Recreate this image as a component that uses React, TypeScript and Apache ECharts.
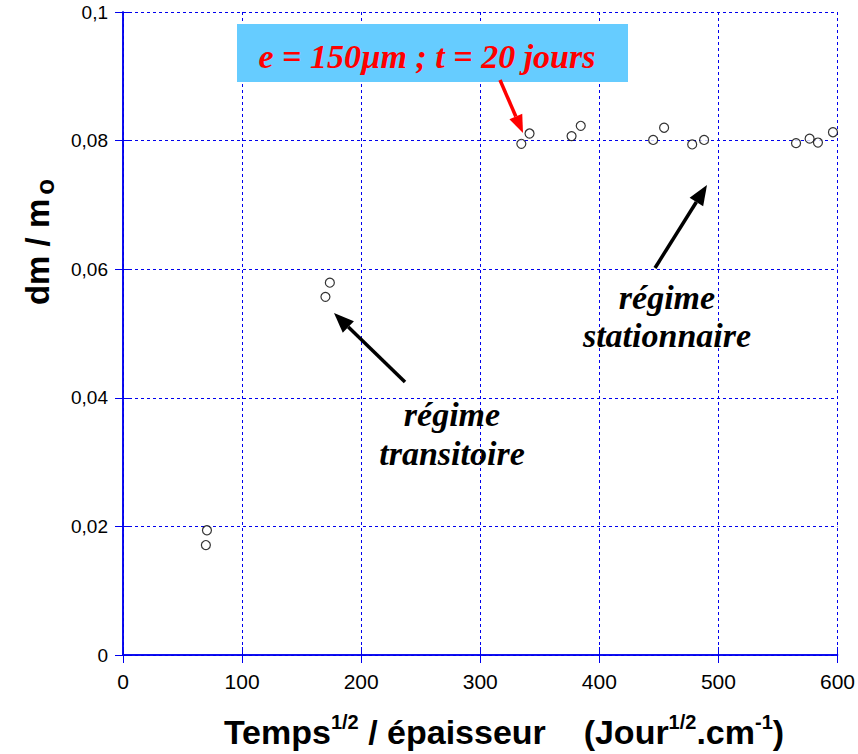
import React, { useEffect, useRef } from "react";
import * as echarts from "echarts";

const xValues = [70.5, 69.6, 173.7, 170.0, 334.5, 341.4, 376.7, 384.4, 445.2, 454.4, 478.0, 488.0, 565.2, 576.6, 583.6, 596.2];
const yValues = [0.0194, 0.0171, 0.0579, 0.0557, 0.0795, 0.0811, 0.0807, 0.0823, 0.0801, 0.0820, 0.0794, 0.0801, 0.0796, 0.0803, 0.0797, 0.0813];
const xTicks = [0, 100, 200, 300, 400, 500, 600];
const yTicks = [0, 0.02, 0.04, 0.06, 0.08, 0.1];

const BLUE = "#0000ee";
const ARIAL = "'Liberation Sans', Arial, sans-serif";
const TIMES = "'Liberation Serif', 'Times New Roman', serif";

function arrow(x1: number, y1: number, x2: number, y2: number, color: string, width: number, headLen: number, headW: number) {
  const dx = x2 - x1, dy = y2 - y1;
  const L = Math.sqrt(dx * dx + dy * dy);
  const ux = dx / L, uy = dy / L;
  const bx = x2 - ux * headLen, by = y2 - uy * headLen;
  const px = -uy, py = ux;
  return [
    { type: "line", shape: { x1, y1, x2: bx, y2: by }, style: { stroke: color, lineWidth: width }, z: 100 },
    {
      type: "polygon",
      shape: { points: [[x2, y2], [bx + px * headW / 2, by + py * headW / 2], [bx - px * headW / 2, by - py * headW / 2]] },
      style: { fill: color }, z: 100,
    },
  ];
}

export default function App() {
  const ref = useRef<HTMLDivElement>(null);
  useEffect(() => {
    if (!ref.current) return;
    const chart = echarts.init(ref.current, undefined, { renderer: "svg" });
    const data = xValues.map((x, i) => [x, yValues[i]]);
    const fmtY = (v: number) => (v === 0 ? "0" : String(+v.toFixed(2)).replace(".", ","));
    const axisCommon = {
      axisLine: { show: true, lineStyle: { color: BLUE, width: 1.5 } },
      axisTick: { show: true, inside: true, length: 8, lineStyle: { color: BLUE, width: 1 } },
    };
    chart.setOption({
      animation: false,
      backgroundColor: "#ffffff",
      grid: { left: 123, top: 12, right: 20, bottom: 99, containLabel: false },
      xAxis: [
        {
          type: "value", min: 0, max: 600, interval: 100, position: "bottom",
          ...axisCommon,
          splitLine: { show: true, lineStyle: { color: BLUE, type: [3, 3], width: 1 } },
          axisLabel: { color: "#000", fontFamily: ARIAL, fontSize: 21, margin: 16, formatter: (v: number) => (xTicks.includes(v) ? String(v) : "") },
        },
        {
          type: "value", min: 0, max: 600, interval: 100, position: "top",
          ...axisCommon, splitLine: { show: false }, axisLabel: { show: false },
        },
      ],
      yAxis: [
        {
          type: "value", min: 0, max: 0.1, interval: 0.02, position: "left",
          ...axisCommon,
          splitLine: { show: true, lineStyle: { color: BLUE, type: [3, 3], width: 1 } },
          axisLabel: { color: "#000", fontFamily: ARIAL, fontSize: 19, margin: 15, formatter: (v: number) => (yTicks.some((t) => Math.abs(t - v) < 1e-9) ? fmtY(v) : "") },
        },
        {
          type: "value", min: 0, max: 0.1, interval: 0.02, position: "right",
          ...axisCommon, splitLine: { show: false }, axisLabel: { show: false },
        },
      ],
      series: [
        {
          type: "scatter",
          data,
          symbol: "circle",
          symbolSize: 9,
          itemStyle: { color: "#ffffff", borderColor: "#000", borderWidth: 1.2 },
          z: 10,
        },
      ],
      graphic: [
        { type: "rect", shape: { x: 237, y: 24, width: 391, height: 58 }, style: { fill: "#66ccff" }, z: 50 },
        {
          type: "text", x: 427, y: 56, z: 60,
          style: { text: "e = 150µm ; t = 20 jours", font: `italic bold 34px ${TIMES}`, fill: "#ff0000", align: "center", verticalAlign: "middle" },
        },
        ...arrow(500, 80, 523, 133, "#ff0000", 3.5, 18, 14),
        ...arrow(405, 382, 334, 313, "#000000", 3.5, 20, 16),
        ...arrow(655, 268, 707, 185, "#000000", 3.5, 20, 16),
        {
          type: "text", x: 452, y: 434, z: 60,
          style: { text: "régime\ntransitoire", font: `italic bold 34px ${TIMES}`, lineHeight: 39, fill: "#000", align: "center", verticalAlign: "middle" },
        },
        {
          type: "text", x: 667, y: 316, z: 60,
          style: { text: "régime\nstationnaire", font: `italic bold 34px ${TIMES}`, lineHeight: 38, fill: "#000", align: "center", verticalAlign: "middle" },
        },
        {
          type: "text", x: 37, y: 242, rotation: Math.PI / 2, z: 60,
          style: {
            text: "{b|dm / m}{s|o}",
            align: "center", verticalAlign: "middle",
            rich: {
              b: { font: `bold 33px ${ARIAL}`, fill: "#000" },
              s: { font: `bold 26px ${ARIAL}`, fill: "#000", padding: [16, 0, 0, 4] },
            },
          },
        },
        {
          type: "text", x: 504, y: 732, z: 60,
          style: {
            text: "{b|Temps}{s|1/2}{b| / épaisseur    (Jour}{s|1/2}{b|.cm}{s|-1}{b|)}",
            align: "center", verticalAlign: "middle",
            rich: {
              b: { font: `bold 34px ${ARIAL}`, fill: "#000" },
              s: { font: `bold 20px ${ARIAL}`, fill: "#000", padding: [0, 0, 20, 0] },
            },
          },
        },
      ],
    });
    return () => chart.dispose();
  }, []);
  return <div ref={ref} style={{ width: 858, height: 754, position: "absolute", left: 0, top: 0 }} />;
}
